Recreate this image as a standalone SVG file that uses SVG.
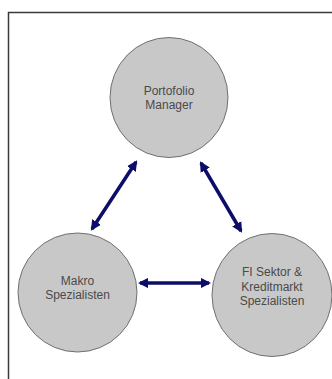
<svg xmlns="http://www.w3.org/2000/svg" width="332" height="379" viewBox="0 0 332 379">
<style>
.node ellipse{fill:#c8c8c8;stroke:#707070;stroke-width:1}
.node text{font-family:"Liberation Sans",Arial,sans-serif;font-size:12px;fill:#4a4a4a;text-anchor:middle}
.conn line{stroke:#0c0c6a;stroke-width:3.5}
</style>
<defs>
<marker id="ah" viewBox="0 0 10 10" refX="8" refY="5" markerWidth="3" markerHeight="3" orient="auto-start-reverse" markerUnits="strokeWidth">
<path d="M0,0 L10,5 L0,10 z" fill="#0c0c6a"/>
</marker>
</defs>
<rect width="332" height="379" fill="#ffffff"/>
<path d="M8.5,379 V12.5 H332" fill="none" stroke="#3a3a3a" stroke-width="1.5"/>
<g id="pm" class="node">
<ellipse cx="169" cy="97.5" rx="59" ry="60"/>
<text x="169" y="95">Portofolio</text>
<text x="169" y="109">Manager</text>
</g>
<g id="makro" class="node">
<ellipse cx="77.5" cy="292.5" rx="59.5" ry="59.5"/>
<text x="77.5" y="285">Makro</text>
<text x="77.5" y="299">Spezialisten</text>
</g>
<g id="fi" class="node">
<ellipse cx="272" cy="295" rx="60" ry="61.5"/>
<text x="272" y="276">FI Sektor &amp;</text>
<text x="272" y="290.5">Kreditmarkt</text>
<text x="272" y="305">Spezialisten</text>
</g>
<g id="connectors" class="conn">
<line x1="136" y1="162" x2="92" y2="229" marker-start="url(#ah)" marker-end="url(#ah)"/>
<line x1="201" y1="163" x2="241" y2="231" marker-start="url(#ah)" marker-end="url(#ah)"/>
<line x1="140" y1="283" x2="209" y2="283" marker-start="url(#ah)" marker-end="url(#ah)"/>
</g>
</svg>
